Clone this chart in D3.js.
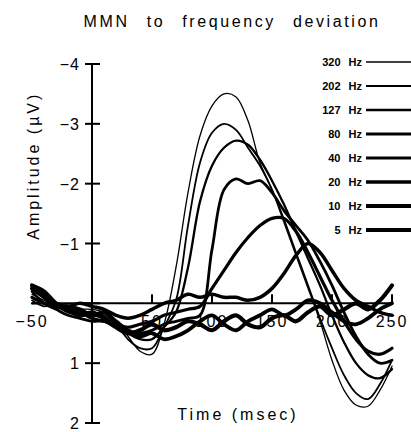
<!DOCTYPE html>
<html>
<head>
<meta charset="utf-8">
<script src="https://cdn.jsdelivr.net/npm/d3@7"></script>
<style>
  body { margin: 0; background: #fff; }
  text { font-family: "Liberation Sans", Arial, sans-serif; fill: #000; }
</style>
</head>
<body>
<div id="box"></div>
<script>
'use strict';

// time in msec, amplitude in microvolts (negative is drawn up)
var times = [-50,-40,-30,-20,-10,0,10,20,30,40,50,60,70,80,90,100,110,120,130,140,150,160,170,180,190,200,210,220,230,240,250];

var hz320 = [-0.15,-0.05,0.05,0.1,0.1,0.1,0.15,0.3,0.55,0.8,0.85,0.35,-0.6,-1.85,-2.8,-3.3,-3.5,-3.45,-3.05,-2.35,-1.9,-1.35,-0.8,-0.25,0.3,0.95,1.45,1.7,1.72,1.45,1.05];
var hz202 = [-0.05,0.05,0.0,0.1,0.15,0.15,0.2,0.35,0.6,0.75,0.75,0.4,-0.05,-1.3,-2.35,-2.85,-3.0,-2.9,-2.6,-2.3,-1.9,-1.4,-0.85,-0.3,0.25,0.75,1.2,1.5,1.6,1.35,0.95];
var hz127 = [0.0,0.0,0.05,0.15,0.2,0.2,0.25,0.35,0.5,0.6,0.6,0.4,0.15,-0.6,-1.7,-2.3,-2.6,-2.72,-2.65,-2.4,-2.05,-1.65,-1.2,-0.75,-0.3,0.2,0.65,1.0,1.2,1.25,1.1];
var hz80  = [-0.2,0.0,0.1,0.2,0.25,0.3,0.3,0.4,0.45,0.5,0.45,0.35,0.3,0.25,0.2,-0.9,-1.9,-2.08,-2.0,-2.05,-1.85,-1.55,-1.3,-1.05,-0.7,-0.3,0.15,0.55,0.85,1.0,0.95];
var hz40  = [-0.1,0.0,0.05,0.1,0.15,0.25,0.3,0.35,0.4,0.35,0.3,0.2,0.15,0.1,0.05,-0.25,-0.55,-0.85,-1.1,-1.3,-1.42,-1.42,-1.2,-0.85,-0.45,-0.05,0.3,0.6,0.8,0.85,0.75];
var hz20  = [-0.25,-0.15,0.0,0.05,0.0,0.05,0.1,0.2,0.25,0.2,0.1,0.0,-0.05,-0.15,-0.1,-0.15,-0.1,-0.1,-0.05,-0.1,-0.25,-0.5,-0.8,-1.0,-0.85,-0.55,-0.25,-0.05,0.05,0.15,0.2];
var hz10  = [-0.25,-0.1,0.05,0.05,0.1,0.2,0.15,0.3,0.45,0.55,0.5,0.6,0.55,0.45,0.3,0.2,0.35,0.45,0.3,0.2,0.1,0.2,0.1,-0.05,0.0,0.15,0.3,0.35,0.25,0.1,0.0];
var hz5   = [-0.3,-0.2,0.0,0.1,0.2,0.15,0.25,0.4,0.5,0.45,0.35,0.45,0.4,0.3,0.35,0.45,0.3,0.2,0.35,0.4,0.25,0.2,0.3,0.15,0.05,0.2,0.1,0.0,0.1,-0.05,-0.3];

var seriesNames = ["320 Hz", "202 Hz", "127 Hz", "80 Hz", "40 Hz", "20 Hz", "10 Hz", "5 Hz"];
var seriesValues = [hz320, hz202, hz127, hz80, hz40, hz20, hz10, hz5];
var lineWidths = [1.3, 1.8, 2.3, 2.8, 3.2, 3.5, 3.8, 4.2];

var yTicks = [-4, -3, -2, -1, 0, 1, 2];
var xTicks = [-50, 50, 100, 150, 200, 250];

var width = 411, height = 432;

var svg = d3.select("#box")
  .append("svg")
    .attr("width", width)
    .attr("height", height);

var x = d3.scaleLinear().domain([-50, 250]).range([32, 392]);
var y = d3.scaleLinear().domain([-4, 2]).range([64, 423]);

// title
svg.append("text")
  .attr("x", 232)
  .attr("y", 27)
  .style("text-anchor", "middle")
  .style("font-size", "16px")
  .style("letter-spacing", "2.6px")
  .style("word-spacing", "10px")
  .text("MMN to frequency deviation");

// y axis (crossing ticks)
svg.append("line")
  .attr("x1", x(0)).attr("x2", x(0))
  .attr("y1", y(-4)).attr("y2", y(2))
  .attr("stroke", "#000").attr("stroke-width", 2);
svg.selectAll(".ytick")
  .data(yTicks)
  .enter().append("line")
    .attr("x1", x(0) - 7).attr("x2", x(0) + 8)
    .attr("y1", function(d) { return y(d); })
    .attr("y2", function(d) { return y(d); })
    .attr("stroke", "#000").attr("stroke-width", 2);
svg.selectAll(".ylab")
  .data(yTicks.filter(function(d) { return d !== 0; }))
  .enter().append("text")
    .attr("x", 80)
    .attr("y", function(d) { return y(d) + 6; })
    .style("text-anchor", "end")
    .style("font-size", "16px")
    .style("letter-spacing", "1px")
    .text(function(d) { return d < 0 ? "\u2212" + (-d) : d; });

svg.append("text")
  .attr("transform", "translate(39," + y(-2.3) + ") rotate(-90)")
  .style("text-anchor", "middle")
  .style("font-size", "16px")
  .style("letter-spacing", "3px")
  .text("Amplitude (\u00b5V)");

// waveforms
var line = d3.line()
  .x(function(d, i) { return x(times[i]); })
  .y(function(d) { return y(d); })
  .curve(d3.curveCatmullRom.alpha(0.5));

svg.selectAll(".wave")
  .data(seriesValues)
  .enter().append("path")
    .attr("fill", "none")
    .attr("stroke", "#000")
    .attr("stroke-linejoin", "round")
    .attr("stroke-linecap", "round")
    .attr("stroke-width", function(d, i) { return lineWidths[i]; })
    .attr("d", line);

// zero line / time axis
svg.append("line")
  .attr("x1", x(-50)).attr("x2", x(250))
  .attr("y1", y(0)).attr("y2", y(0))
  .attr("stroke", "#000").attr("stroke-width", 2);
svg.selectAll(".xtick")
  .data(xTicks.filter(function(d) { return d > 0; }))
  .enter().append("line")
    .attr("x1", function(d) { return x(d); })
    .attr("x2", function(d) { return x(d); })
    .attr("y1", y(0) - 9).attr("y2", y(0))
    .attr("stroke", "#000").attr("stroke-width", 2);
svg.selectAll(".xlab")
  .data(xTicks)
  .enter().append("text")
    .attr("x", function(d) { return x(d); })
    .attr("y", 327)
    .style("text-anchor", "middle")
    .style("font-size", "16px")
    .style("letter-spacing", "2px")
    .text(function(d) { return d < 0 ? "\u2212" + (-d) : d; });

svg.append("text")
  .attr("x", 238)
  .attr("y", 420)
  .style("text-anchor", "middle")
  .style("font-size", "16px")
  .style("letter-spacing", "3px")
  .text("Time (msec)");

// legend
var legendY = d3.scalePoint().domain(seriesNames).range([62, 230]);
var legend = svg.selectAll(".legend")
  .data(seriesNames)
  .enter().append("g")
    .attr("transform", function(d) { return "translate(0," + legendY(d) + ")"; });
legend.append("text")
  .attr("x", 362)
  .attr("y", 4)
  .style("text-anchor", "end")
  .style("font-size", "11px")
  .style("font-weight", "bold")
  .style("word-spacing", "5px")
  .text(function(d) { return d; });
legend.append("line")
  .attr("x1", 366).attr("x2", 415)
  .attr("y1", 0).attr("y2", 0)
  .attr("stroke", "#000")
  .attr("stroke-width", function(d, i) { return lineWidths[i]; });
</script>
</body>
</html>
